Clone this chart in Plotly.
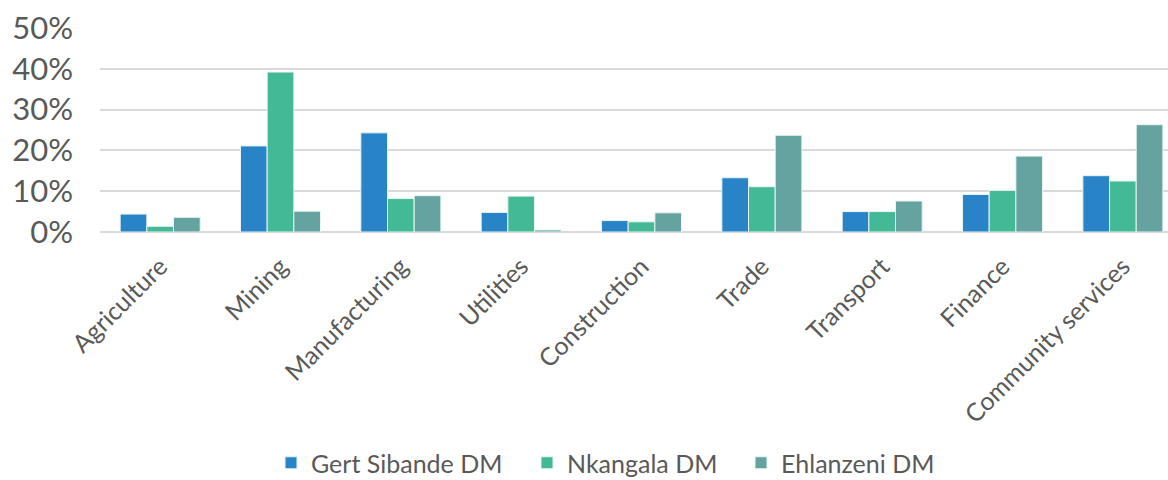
import plotly.graph_objects as go

sectors = ["Agriculture", "Mining", "Manufacturing", "Utilities", "Construction",
           "Trade", "Transport", "Finance", "Community services"]

gert_sibande = [4.4, 21.1, 24.3, 4.8, 2.8, 13.3, 5.0, 9.2, 13.8]
nkangala = [1.4, 39.2, 8.2, 8.8, 2.5, 11.1, 5.0, 10.2, 12.5]
ehlanzeni = [3.6, 5.1, 8.9, 0.5, 4.7, 23.7, 7.6, 18.6, 26.3]

series = [
    ("Gert Sibande DM", gert_sibande, "#2983C7", "legend"),
    ("Nkangala DM", nkangala, "#43B995", "legend2"),
    ("Ehlanzeni DM", ehlanzeni, "#64A39F", "legend3"),
]

font_family = "Lato, 'DejaVu Sans', sans-serif"
text_color = "#595959"

fig = go.Figure()
for name, vals, color, leg in series:
    fig.add_trace(go.Bar(
        x=sectors, y=vals, name=name, legend=leg,
        marker=dict(color=color, line=dict(color="#E8F4F2", width=1)),
    ))

# one legend entry per series, laid out along the bottom edge
legend_left = {"legend": 271, "legend2": 527, "legend3": 741}
legend_style = {}
for key, left in legend_left.items():
    legend_style[key] = dict(
        orientation="h", xref="container", x=left / 1168, xanchor="left",
        yref="container", y=0.0354, yanchor="middle",
        font=dict(size=25, color=text_color), itemwidth=30,
        bgcolor="rgba(0,0,0,0)",
    )

fig.update_layout(
    width=1168, height=480,
    margin=dict(l=100, r=0, t=28, b=248, autoexpand=False),
    paper_bgcolor="white", plot_bgcolor="white",
    barmode="group", bargap=0.335, bargroupgap=0,
    font=dict(family=font_family, color=text_color),
    showlegend=True,
    xaxis=dict(
        tickangle=-45, tickfont=dict(size=25, color=text_color),
        showgrid=False, showline=False, ticks="", automargin=False,
        range=[-0.5, 8.375], ticklabelstandoff=14,
    ),
    yaxis=dict(
        range=[0, 50], dtick=10, ticksuffix="%",
        tickfont=dict(size=31, color=text_color),
        showgrid=True, gridcolor="#D9D9D9", gridwidth=1.5,
        zeroline=True, zerolinecolor="#D9D9D9", zerolinewidth=1.5,
        showline=False, ticks="", ticklabelstandoff=26, automargin=False,
    ),
    **legend_style,
)

fig.write_html("out.html")
